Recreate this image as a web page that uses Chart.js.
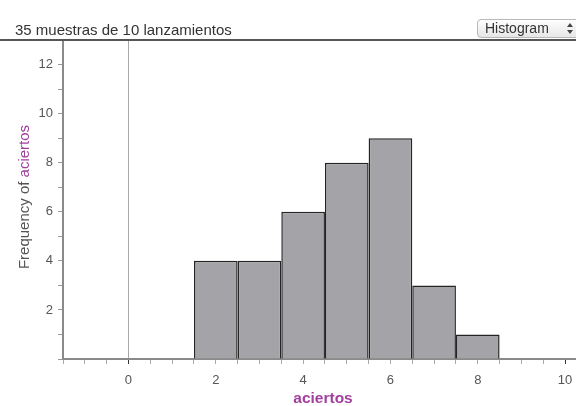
<!DOCTYPE html>
<html>
<head>
<meta charset="utf-8">
<script src="https://cdn.jsdelivr.net/npm/chart.js@4"></script>
<style>
  body { margin: 0; background: #fff; }
  #wrap { position: relative; width: 576px; height: 406px; }
  #titulo {
    position: absolute; left: 15px; top: 21px;
    font: 15px "Liberation Sans", Arial, sans-serif; color: #333;
  }
  #boton {
    position: absolute; left: 477px; top: 19px; width: 104px; height: 19px;
    border: 1px solid #b8b8b8; border-radius: 4px;
    background: linear-gradient(#ffffff, #e6e6e6);
    font: 14px "Liberation Sans", Arial, sans-serif; color: #333;
    line-height: 17px; padding-left: 7px; box-sizing: border-box;
  }
  #flechas { position: absolute; left: 88px; top: 3px; width: 8px; height: 12px; }
  #flechas i { position: absolute; left: 1px; width: 0; height: 0;
    border-left: 3px solid transparent; border-right: 3px solid transparent; }
  #flechas .up { top: 0; border-bottom: 4px solid #444; }
  #flechas .down { top: 7px; border-top: 4px solid #444; }
</style>
</head>
<body>
<div id="wrap">
  <canvas id="hist" width="576" height="406"></canvas>
  <div id="titulo">35 muestras de 10 lanzamientos</div>
  <div id="boton">Histogram<span id="flechas"><i class="up"></i><i class="down"></i></span></div>
</div>
<script>
// datos del histograma (aciertos en 10 lanzamientos, 35 muestras)
const aciertos = [2, 3, 4, 5, 6, 7, 8];
const frecuencias = [4, 4, 6, 8, 9, 3, 1];
// marcas con etiqueta
const xEtiquetas = [0, 2, 4, 6, 8, 10];
const yEtiquetas = [2, 4, 6, 8, 10, 12];

const morado = "#a2409e";
const fuente = '"Liberation Sans", Arial, sans-serif';

// titulos de los ejes (texto con dos colores) y linea de separacion
const titulosPlugin = {
  id: "titulos",
  afterDraw(chart) {
    const ctx = chart.ctx;
    ctx.save();
    // linea bajo el titulo
    ctx.strokeStyle = "#555";
    ctx.lineWidth = 2;
    ctx.beginPath();
    ctx.moveTo(0, 40);
    ctx.lineTo(576, 40);
    ctx.stroke();

    // titulo eje y
    ctx.font = "15px " + fuente;
    const a = "Frequency of ";
    const b = "aciertos";
    const wa = ctx.measureText(a).width;
    const wb = ctx.measureText(b).width;
    ctx.translate(25, 197);
    ctx.rotate(-Math.PI / 2);
    ctx.textBaseline = "middle";
    ctx.textAlign = "left";
    ctx.fillStyle = "#555";
    ctx.fillText(a, -(wa + wb) / 2, 0);
    ctx.fillStyle = morado;
    ctx.fillText(b, -(wa + wb) / 2 + wa, 0);
    ctx.restore();

    // titulo eje x
    ctx.save();
    ctx.font = "bold 15.5px " + fuente;
    ctx.fillStyle = morado;
    ctx.textAlign = "center";
    ctx.textBaseline = "middle";
    ctx.fillText("aciertos", 323, 399);
    ctx.restore();
  },
};

const ctx = document.getElementById("hist").getContext("2d");
const grafico = new Chart(ctx, {
  type: "bar",
  data: {
    datasets: [
      {
        label: "aciertos",
        data: aciertos.map((a, i) => ({ x: a, y: frecuencias[i] })),
        backgroundColor: "#a4a4a8",
        borderColor: "#242424",
        borderWidth: 1.5,
        borderSkipped: "bottom",
        // las marcas van cada 0.5, asi que la barra ocupa dos espacios
        barPercentage: 2,
        categoryPercentage: 1,
      },
    ],
  },
  options: {
    responsive: false,
    animation: false,
    events: [],
    layout: { padding: { top: 40, left: 0, right: 0, bottom: 0 } },
    plugins: { legend: { display: false }, tooltip: { enabled: false } },
    scales: {
      x: {
        type: "linear",
        offset: false,
        min: -1.5,
        max: 10.25,
        afterFit(s) {
          s.height = 47;
          s.paddingLeft = 0;
          s.paddingRight = 0;
        },
        afterBuildTicks(s) {
          const t = [];
          for (let v = -3; v <= 20; v++) t.push({ value: v / 2 });
          s.ticks = t;
        },
        border: { color: "#8a8a8a", width: 2 },
        grid: {
          offset: false,
          color: c => (c.tick && c.tick.value === 0 ? "#a9a9a9" : "rgba(0,0,0,0)"),
          tickColor: c => (c.tick && (c.tick.value === 0 || c.tick.value === 10) ? "#333" : "#aaa"),
          tickLength: 5,
          lineWidth: 1,
        },
        ticks: {
          autoSkip: false,
          maxRotation: 0,
          padding: 9,
          color: "#555",
          font: { family: fuente, size: 13 },
          callback: v => (xEtiquetas.includes(v) ? String(v) : ""),
        },
      },
      y: {
        min: 0,
        max: 13,
        afterFit(s) { s.width = 63; },
        border: { color: "#8a8a8a", width: 2 },
        grid: {
          drawOnChartArea: false,
          tickColor: "#999",
          tickLength: 5,
        },
        ticks: {
          stepSize: 1,
          autoSkip: false,
          padding: 5,
          color: "#555",
          font: { family: fuente, size: 13 },
          callback: v => (yEtiquetas.includes(v) ? String(v) : ""),
        },
      },
    },
  },
  plugins: [titulosPlugin],
});
</script>
</body>
</html>
